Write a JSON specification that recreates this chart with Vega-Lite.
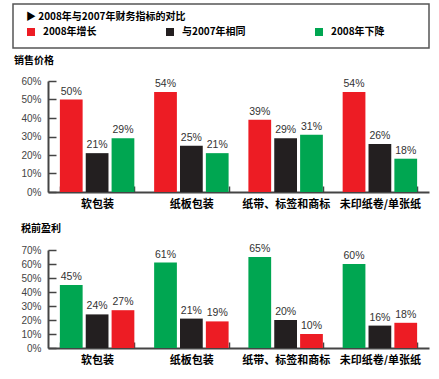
{
  "$schema": "https://vega.github.io/schema/vega-lite/v6.json",
  "padding": {"left": 12, "top": 3, "right": 0, "bottom": 0},
  "background": "white",
  "config": {
    "view": {"stroke": null},
    "font": "Noto Sans CJK SC",
    "axis": {"grid": false, "title": null}
  },
  "datasets": {
    "price": [
      {"category": "软包装", "series": "2008年增长", "value": 0.50},
      {"category": "软包装", "series": "与2007年相同", "value": 0.21},
      {"category": "软包装", "series": "2008年下降", "value": 0.29},
      {"category": "纸板包装", "series": "2008年增长", "value": 0.54},
      {"category": "纸板包装", "series": "与2007年相同", "value": 0.25},
      {"category": "纸板包装", "series": "2008年下降", "value": 0.21},
      {"category": "纸带、标签和商标", "series": "2008年增长", "value": 0.39},
      {"category": "纸带、标签和商标", "series": "与2007年相同", "value": 0.29},
      {"category": "纸带、标签和商标", "series": "2008年下降", "value": 0.31},
      {"category": "未印纸卷/单张纸", "series": "2008年增长", "value": 0.54},
      {"category": "未印纸卷/单张纸", "series": "与2007年相同", "value": 0.26},
      {"category": "未印纸卷/单张纸", "series": "2008年下降", "value": 0.18}
    ],
    "profit": [
      {"category": "软包装", "series": "2008年下降", "value": 0.45},
      {"category": "软包装", "series": "与2007年相同", "value": 0.24},
      {"category": "软包装", "series": "2008年增长", "value": 0.27},
      {"category": "纸板包装", "series": "2008年下降", "value": 0.61},
      {"category": "纸板包装", "series": "与2007年相同", "value": 0.21},
      {"category": "纸板包装", "series": "2008年增长", "value": 0.19},
      {"category": "纸带、标签和商标", "series": "2008年下降", "value": 0.65},
      {"category": "纸带、标签和商标", "series": "与2007年相同", "value": 0.20},
      {"category": "纸带、标签和商标", "series": "2008年增长", "value": 0.10},
      {"category": "未印纸卷/单张纸", "series": "2008年下降", "value": 0.60},
      {"category": "未印纸卷/单张纸", "series": "与2007年相同", "value": 0.16},
      {"category": "未印纸卷/单张纸", "series": "2008年增长", "value": 0.18}
    ]
  },
  "spacing": 7,
  "vconcat": [
    {
      "width": 416,
      "height": 44,
      "view": {"stroke": "#555", "strokeWidth": 1.5, "fill": null},
      "data": {"values": []},
      "mark": "point",
      "encoding": {}
    },
    {
      "spacing": 14,
      "resolve": {"scale": {"xOffset": "independent"}},
      "vconcat": [
        {
          "title": {"text": "销售价格", "anchor": "start", "frame": "group", "fontSize": 10, "fontWeight": "bold", "color": "#000", "offset": 10, "dx": 1},
          "width": 416,
          "height": 111,
          "data": {"name": "price"},
          "encoding": {
            "x": {
              "field": "category", "type": "nominal",
              "sort": ["软包装", "纸板包装", "纸带、标签和商标", "未印纸卷/单张纸"],
              "scale": {"range": [35, 416], "paddingInner": 0.21, "paddingOuter": 0.126},
              "axis": {"title": null, "labelAngle": 0, "labelFont": "Noto Sans CJK SC", "labelFontSize": 11, "labelFontWeight": "bold", "labelColor": "#000", "tickBand": "extent", "tickSize": -6, "tickColor": "#444", "tickWidth": 1.5, "domainColor": "#444", "domainWidth": 2, "labelPadding": 12, "labelLimit": 200}
            },
            "xOffset": {"field": "series", "sort": ["2008年增长", "与2007年相同", "2008年下降"], "scale": {"paddingInner": 0.12, "paddingOuter": 0}},
            "y": {
              "field": "value", "type": "quantitative",
              "scale": {"domain": [0, 0.6], "nice": false},
              "axis": {"title": null, "offset": -35, "values": [0, 0.1, 0.2, 0.3, 0.4, 0.5, 0.6], "format": ".0%", "tickSize": -8, "labelPadding": 15, "labelFont": "Liberation Sans", "labelFontSize": 10, "labelColor": "#444", "domainWidth": 2, "domainColor": "#444", "tickColor": "#444", "tickWidth": 1.5}
            },
            "color": {
              "field": "series", "type": "nominal",
              "scale": {"domain": ["2008年增长", "与2007年相同", "2008年下降"], "range": ["#ED1C24", "#231F20", "#00A651"]},
              "legend": {"orient": "none", "legendX": 13, "legendY": 8, "direction": "horizontal", "title": "▶ 2008年与2007年财务指标的对比", "titleFontSize": 10, "titleFontWeight": "bold", "titleColor": "#000", "titleFont": "Noto Sans CJK SC", "titlePadding": 5, "symbolType": "square", "symbolSize": 64, "symbolStrokeWidth": 0, "symbolOpacity": 1, "labelFontSize": 10, "labelFont": "Noto Sans CJK SC", "labelFontWeight": "bold", "labelColor": "#000", "labelOffset": 7, "columnPadding": 68}
            }
          },
          "layer": [
            {"mark": {"type": "bar"}},
            {
              "mark": {"type": "text", "baseline": "bottom", "dy": -3, "fontSize": 10.5, "font": "Liberation Sans"},
              "encoding": {"text": {"field": "value", "type": "quantitative", "format": ".0%"}, "color": {"value": "#333"}}
            }
          ]
        },
        {
          "title": {"text": "税前盈利", "anchor": "start", "frame": "group", "fontSize": 10, "fontWeight": "bold", "color": "#000", "offset": 10, "dx": 8},
          "width": 416,
          "height": 98,
          "data": {"name": "profit"},
          "encoding": {
            "x": {
              "field": "category", "type": "nominal",
              "sort": ["软包装", "纸板包装", "纸带、标签和商标", "未印纸卷/单张纸"],
              "scale": {"range": [35, 416], "paddingInner": 0.21, "paddingOuter": 0.126},
              "axis": {"title": null, "labelAngle": 0, "labelFont": "Noto Sans CJK SC", "labelFontSize": 11, "labelFontWeight": "bold", "labelColor": "#000", "tickBand": "extent", "tickSize": -6, "tickColor": "#444", "tickWidth": 1.5, "domainColor": "#444", "domainWidth": 2, "labelPadding": 12, "labelLimit": 200}
            },
            "xOffset": {"field": "series", "sort": ["2008年下降", "与2007年相同", "2008年增长"], "scale": {"paddingInner": 0.12, "paddingOuter": 0}},
            "y": {
              "field": "value", "type": "quantitative",
              "scale": {"domain": [0, 0.7], "nice": false},
              "axis": {"title": null, "offset": -35, "values": [0, 0.1, 0.2, 0.3, 0.4, 0.5, 0.6, 0.7], "format": ".0%", "tickSize": -8, "labelPadding": 15, "labelFont": "Liberation Sans", "labelFontSize": 10, "labelColor": "#444", "domainWidth": 2, "domainColor": "#444", "tickColor": "#444", "tickWidth": 1.5}
            },
            "color": {
              "field": "series", "type": "nominal",
              "scale": {"domain": ["2008年增长", "与2007年相同", "2008年下降"], "range": ["#ED1C24", "#231F20", "#00A651"]},
              "legend": {"orient": "none", "legendX": 13, "legendY": 8, "direction": "horizontal", "title": "▶ 2008年与2007年财务指标的对比", "titleFontSize": 10, "titleFontWeight": "bold", "titleColor": "#000", "titleFont": "Noto Sans CJK SC", "titlePadding": 5, "symbolType": "square", "symbolSize": 64, "symbolStrokeWidth": 0, "symbolOpacity": 1, "labelFontSize": 10, "labelFont": "Noto Sans CJK SC", "labelFontWeight": "bold", "labelColor": "#000", "labelOffset": 7, "columnPadding": 68}
            }
          },
          "layer": [
            {"mark": {"type": "bar"}},
            {
              "mark": {"type": "text", "baseline": "bottom", "dy": -3, "fontSize": 10.5, "font": "Liberation Sans"},
              "encoding": {"text": {"field": "value", "type": "quantitative", "format": ".0%"}, "color": {"value": "#333"}}
            }
          ]
        }
      ]
    }
  ]
}
